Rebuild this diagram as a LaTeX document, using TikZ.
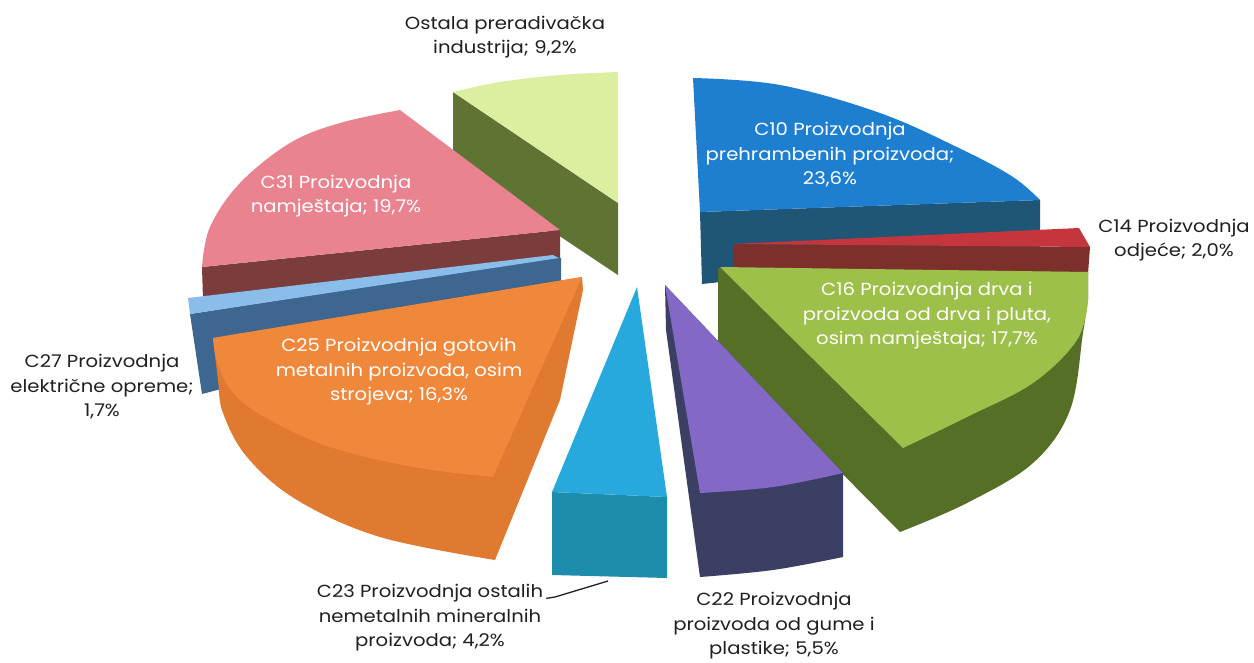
\documentclass[tikz,border=0pt]{standalone}
\usepackage{fontspec}
\setmainfont{Poppins}[FakeStretch=1.12]
\definecolor{osTop}{HTML}{DCEFA0}
\definecolor{osSide}{HTML}{5F7432}
\definecolor{ctenTop}{HTML}{1E7ED0}
\definecolor{ctenSide}{HTML}{1F5676}
\definecolor{cthirtyTop}{HTML}{E8838F}
\definecolor{cthirtySide}{HTML}{7A3D3B}
\definecolor{cfourTop}{HTML}{C4353D}
\definecolor{cfourSide}{HTML}{7D302B}
\definecolor{csevenTop}{HTML}{8BBDEB}
\definecolor{csevenSide}{HTML}{3D6690}
\definecolor{csixTop}{HTML}{9CC04A}
\definecolor{csixSide}{HTML}{556F26}
\definecolor{cfiveTop}{HTML}{F0883C}
\definecolor{cfiveSide}{HTML}{DF7A30}
\definecolor{cthreeTop}{HTML}{27A9DE}
\definecolor{cthreeSide}{HTML}{1E8CAD}
\definecolor{ctwoTop}{HTML}{8468C6}
\definecolor{ctwoSide}{HTML}{3B3F63}
\definecolor{lblcol}{HTML}{231F20}
\begin{document}
\begin{tikzpicture}[x=1pt,y=-1pt,
  lbl/.style={font=\fontsize{17.5}{24.5}\selectfont, align=center, text=lblcol, inner sep=0pt},
  inlbl/.style={lbl, text=white},
  sm/.style={smooth, tension=0.6}]
\useasboundingbox (0,0) rectangle (1254,662);
\fill[white] (0,0) rectangle (1254,662);

% Ostala
\fill[osSide] (453,92) -- (618,203) -- (618,275) -- (453,165) -- cycle;
\fill[osTop] plot[sm] coordinates {(453,92) (500,82) (560,75) (618,72)} -- (618,203) -- cycle;

% C10
\fill[ctenSide] (700,212) -- (1040,200) -- (1040,248) -- (702,284) -- cycle;
\fill[ctenTop] plot[sm] coordinates {(693,78) (780,85) (880,113) (963,150) (1013,177) (1040,200)} -- (700,212) -- cycle;

% C31
\fill[cthirtySide] (202,267) -- (560,230) -- (560,270) -- (203,300) -- cycle;
\fill[cthirtyTop] plot[sm] coordinates {(202,267) (210,227) (240,183) (290,143) (340,123) (400,110)} -- (560,230) -- cycle;

% C14
\fill[cfourSide] (733,244) -- (1090,247) -- (1088,274) -- (733,272) -- cycle;
\fill[cfourTop] (733,244) -- (1079,228) -- (1090,247) -- cycle;

% C27
\fill[csevenSide] (190,314) -- (557,257) -- (561,258) -- (561,300) -- (202,394) -- cycle;
\fill[csevenTop] (188,298) -- (553,255) -- (559,258) -- (190,314) -- cycle;

% C16
\fill[csixSide] (718,268) -- (718,348) -- plot[sm] coordinates {(900,532) (967,503) (1033,463) (1070,410) (1083,333) (1088,300)} -- (1088,272) -- cycle;
\fill[csixTop] (720,267) -- (1088,272) -- plot[sm] coordinates {(1088,300) (1077,340) (1033,383) (967,417) (903,448)} -- cycle;

% C25
\fill[cfiveSide] plot[sm] coordinates {(213,338) (218,380) (223,413) (247,457) (297,500) (380,537) (495,560)} -- (560,400) -- (583,290) -- (582,277) -- cycle;
\fill[cfiveTop] (213,338) -- (582,277) -- plot[sm] coordinates {(493,477) (413,467) (330,447) (270,420) (235,395) (218,365) (213,338)} -- cycle;

% C23
\fill[cthreeSide] (552,492) -- (667,497) -- (667,578) -- (552,575) -- cycle;
\fill[cthreeTop] (637,287) -- (667,497) -- (552,492) -- cycle;

% C22
\fill[ctwoSide] (665,285) -- (666,330) -- plot[sm] coordinates {(700,577) (773,570) (843,557)} -- (843,473) -- cycle;
\fill[ctwoTop] (665,285) -- plot[sm] coordinates {(700,493) (773,487) (843,473)} -- cycle;

% labels
\node[lbl] (los) at (505,37) {Ostala preradivačka\\industrija; 9,2\%};
\node[inlbl] (l10) at (830,155) {C10 Proizvodnja\\prehrambenih proizvoda;\\23,6\%};
\node[lbl] (l14) at (1174,240) {C14 Proizvodnja\\odjeće; 2,0\%};
\node[inlbl] (l16) at (927,316) {C16 Proizvodnja drva i\\proizvoda od drva i pluta,\\osim namještaja; 17,7\%};
\node[lbl] (l22) at (774,626) {C22 Proizvodnja\\proizvoda od gume i\\plastike; 5,5\%};
\node[lbl] (l23) at (430,618) {C23 Proizvodnja ostalih\\nemetalnih mineralnih\\proizvoda; 4,2\%};
\node[inlbl] (l25) at (399,372) {C25 Proizvodnja gotovih\\metalnih proizvoda, osim\\strojeva; 16,3\%};
\node[lbl] (l27) at (102,387) {C27 Proizvodnja\\električne opreme;\\1,7\%};
\node[inlbl] (l31) at (336,196) {C31 Proizvodnja\\namještaja; 19,7\%};

% leader
\coordinate (c23end) at (608,581);
\coordinate (c23elbow) at (555,597);
\draw[lblcol, line width=1.3pt] ([xshift=3pt,yshift=-14pt]l23.north east) -- (c23elbow) -- (c23end);
\end{tikzpicture}
\end{document}
